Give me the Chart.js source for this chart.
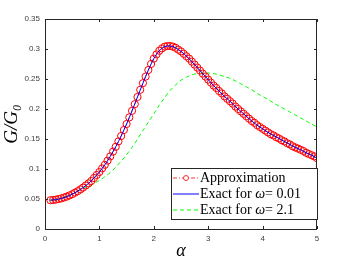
<!DOCTYPE html>
<html>
<head>
<meta charset="utf-8">
<script src="https://cdn.jsdelivr.net/npm/chart.js@4.4.0/dist/chart.umd.min.js"></script>
<style>
body{margin:0;background:#fff;}
</style>
</head>
<body>
<canvas id="grph" width="350" height="263"></canvas>
<script>
// alpha grid of the approximation (circles)
const ALPHA_APPROX = [
0.10,0.15,0.20,0.25,0.30,0.35,0.40,0.45,0.50,0.55,0.60,0.65,0.70,0.75,0.80,0.85,0.90,0.95,1.00,
1.05,1.10,1.15,1.20,1.25,1.30,1.35,1.40,1.45,1.50,1.55,1.60,1.65,1.70,1.75,1.80,1.85,1.90,1.95,2.00,
2.05,2.10,2.15,2.20,2.25,2.30,2.35,2.40,2.45,2.50,2.55,2.60,2.65,2.70,2.75,2.80,2.85,2.90,2.95,3.00,
3.05,3.10,3.15,3.20,3.25,3.30,3.35,3.40,3.45,3.50,3.55,3.60,3.65,3.70,3.75,3.80,3.85,3.90,3.95,4.00,
4.05,4.10,4.15,4.20,4.25,4.30,4.35,4.40,4.45,4.50,4.55,4.60,4.65,4.70,4.75,4.80,4.85,4.90,4.95,5.00];
const APPROX = [
0.048,0.0483,0.049,0.050,0.051,0.0525,0.054,0.056,0.058,0.0605,0.063,0.066,0.069,0.0725,0.076,0.080,0.085,0.090,0.095,
0.101,0.107,0.114,0.121,0.129,0.137,0.146,0.155,0.165,0.175,0.186,0.197,0.208,0.220,0.232,0.243,0.254,0.265,0.275,0.284,
0.291,0.297,0.301,0.304,0.305,0.305,0.304,0.302,0.299,0.296,0.292,0.288,0.284,0.279,0.274,0.269,0.264,0.259,0.254,0.249,
0.244,0.239,0.235,0.230,0.226,0.221,0.217,0.213,0.209,0.204,0.200,0.196,0.192,0.188,0.184,0.180,0.177,0.173,0.170,0.167,
0.164,0.161,0.158,0.156,0.153,0.151,0.148,0.146,0.143,0.141,0.138,0.136,0.134,0.132,0.130,0.127,0.125,0.123,0.121,0.118];

// alpha grid of the exact curves
const ALPHA_EXACT = [
0.1,0.2,0.3,0.4,0.5,0.6,0.7,0.8,0.9,1.0,1.1,1.2,1.3,1.4,1.5,1.6,1.7,1.8,1.9,2.0,
2.1,2.2,2.3,2.4,2.5,2.6,2.7,2.8,2.9,3.0,3.1,3.2,3.3,3.4,3.5,3.6,3.7,3.8,3.9,4.0,
4.1,4.2,4.3,4.4,4.5,4.6,4.7,4.8,4.9,5.0];
const EXACT_001 = [
0.048,0.049,0.051,0.054,0.058,0.063,0.069,0.076,0.085,0.095,0.107,0.121,0.137,0.155,0.175,0.197,0.220,0.243,0.265,0.284,
0.297,0.304,0.305,0.302,0.296,0.288,0.279,0.269,0.259,0.249,0.239,0.230,0.221,0.213,0.204,0.196,0.188,0.180,0.173,0.167,
0.161,0.156,0.151,0.146,0.141,0.136,0.132,0.127,0.123,0.118];
const EXACT_21 = [
0.048,0.049,0.051,0.054,0.058,0.063,0.068,0.071,0.076,0.081,0.087,0.094,0.103,0.113,0.124,0.136,0.150,0.164,0.178,0.192,
0.206,0.219,0.231,0.240,0.248,0.253,0.257,0.259,0.260,0.260,0.259,0.257,0.254,0.251,0.247,0.242,0.237,0.232,0.226,0.221,
0.216,0.210,0.205,0.200,0.195,0.190,0.185,0.180,0.175,0.170];

const X_TICKS = [0,1,2,3,4,5];
const Y_TICKS = [0,0.05,0.1,0.15,0.2,0.25,0.3,0.35];
const LEGEND = ["Approximation", "Exact for |\u03c9|= 0.01", "Exact for |\u03c9|= 2.1"];

const AXC = "#262626";
const TICKC = "#404040";

function pts(xs, ys){
    return xs.map((x,i)=>({x:x, y:ys[i]}));
}

// box with inward ticks on all four sides, plus the legend inside the axes
const boxPlugin = {
    id: "box",
    afterDatasetsDraw(chart){
        const ctx = chart.ctx;
        const a = chart.chartArea;
        const xs = chart.scales.x, ys = chart.scales.y;
        ctx.save();
        ctx.strokeStyle = AXC;
        ctx.lineWidth = 1;
        ctx.strokeRect(Math.round(a.left)+0.5, Math.round(a.top)+0.5, Math.round(a.right-a.left)-1, Math.round(a.bottom-a.top));
        ctx.beginPath();
        X_TICKS.forEach(v=>{
            const px = Math.round(xs.getPixelForValue(v))+0.5;
            ctx.moveTo(px, a.bottom); ctx.lineTo(px, a.bottom-3);
            ctx.moveTo(px, a.top); ctx.lineTo(px, a.top+3);
        });
        Y_TICKS.forEach(v=>{
            const py = Math.round(ys.getPixelForValue(v))+0.5;
            ctx.moveTo(a.left, py); ctx.lineTo(a.left+3, py);
            ctx.moveTo(a.right, py); ctx.lineTo(a.right-3, py);
        });
        ctx.stroke();

        // legend
        const lx = 171, ly = 168, lw = 146, lh = 51;
        ctx.fillStyle = "#fff";
        ctx.fillRect(lx, ly, lw, lh);
        ctx.strokeStyle = "#262626";
        ctx.strokeRect(lx+0.5, ly+0.5, lw, lh);
        const sets = chart.data.datasets;
        LEGEND.forEach((lab,i)=>{
            const yy = ly + 10 + i*16;
            const ds = sets[i];
            ctx.strokeStyle = ds.borderColor;
            ctx.lineWidth = ds.borderWidth;
            ctx.setLineDash(ds.borderDash || []);
            ctx.beginPath();
            ctx.moveTo(lx+2, yy); ctx.lineTo(lx+28, yy);
            ctx.stroke();
            ctx.setLineDash([]);
            if(i===0){
                ctx.beginPath();
                ctx.arc(lx+15, yy, 2.5, 0, Math.PI*2);
                ctx.fillStyle = "#fff";
                ctx.fill();
                ctx.stroke();
            }
            ctx.fillStyle = "#000";
            ctx.textBaseline = "middle";
            let x0 = lx + 29;
            lab.split("|").forEach((part,k)=>{
                ctx.font = (k===1 ? "italic " : "") + "14px 'Liberation Serif'";
                ctx.fillText(part, x0, yy);
                x0 += ctx.measureText(part).width;
            });
        });
        ctx.restore();
    }
};

new Chart(document.getElementById("grph"),{
    type: "line",
    data: {
        datasets: [{
            label: "Approximation",
            data: pts(ALPHA_APPROX, APPROX),
            borderColor: "#ff0000",
            borderWidth: 0.8,
            borderDash: [4,2,1,2],
            pointStyle: "circle",
            pointRadius: 3.6,
            pointBorderWidth: 1,
            pointBorderColor: "#ff0000",
            pointBackgroundColor: "rgba(0,0,0,0)",
            fill: false,
            tension: 0,
            order: 2
        },{
            label: "Exact 0.01",
            data: pts(ALPHA_EXACT, EXACT_001),
            borderColor: "#0000ff",
            borderWidth: 1,
            pointRadius: 0,
            fill: false,
            tension: 0.3,
            order: 1
        },{
            label: "Exact 2.1",
            data: pts(ALPHA_EXACT, EXACT_21),
            borderColor: "#00ff00",
            borderWidth: 1,
            borderDash: [4,3],
            pointRadius: 0,
            fill: false,
            tension: 0.3,
            order: 3
        }]
    },
    options: {
        responsive: false,
        animation: false,
        layout: {padding: {top: 19, right: 33, left: 0, bottom: 0}},
        plugins: {legend: {display: false}, tooltip: {enabled: false}},
        scales: {
            x: {
                type: "linear",
                min: 0, max: 5,
                afterBuildTicks: s => { s.ticks = X_TICKS.map(v=>({value:v})); },
                afterFit: s => { s.height = 34; },
                grid: {display: false, drawTicks: false},
                border: {display: false},
                ticks: {color: TICKC, font: {family: "'Liberation Sans'", size: 8}, padding: 5, maxRotation: 0},
                title: {display: true, text: "\u03b1", color: "#000", font: {family: "'Liberation Serif'", style: "italic", size: 18}, padding: {top: 0, bottom: 1}}
            },
            y: {
                min: 0, max: 0.35,
                afterBuildTicks: s => { s.ticks = Y_TICKS.map(v=>({value:v})); },
                afterFit: s => { s.width = 45; },
                grid: {display: false, drawTicks: false},
                border: {display: false},
                ticks: {color: TICKC, font: {family: "'Liberation Sans'", size: 8}, padding: 5,
                    callback: v => String(+v.toFixed(2))},
                title: {display: true, text: "G/G\u2080", color: "#000", font: {family: "'Liberation Serif'", style: "italic", size: 19}, padding: {top: 1, bottom: 0}}
            }
        }
    },
    plugins: [boxPlugin]
});
</script>
</body>
</html>
